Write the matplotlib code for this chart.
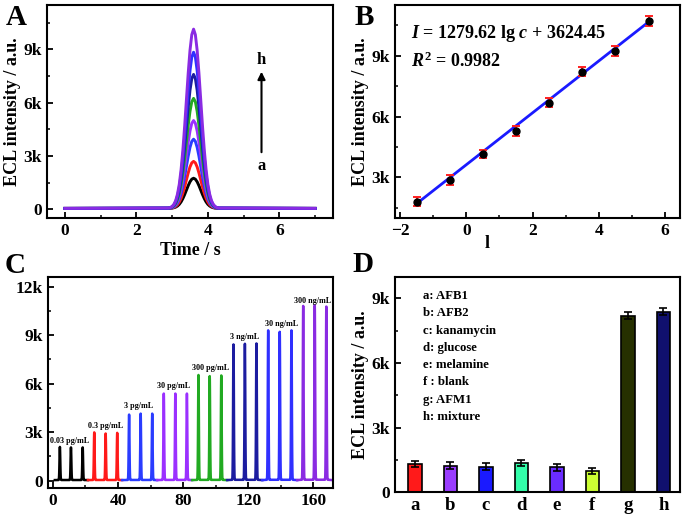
import numpy as np
import matplotlib
matplotlib.use("Agg")
import matplotlib.pyplot as plt
from matplotlib.ticker import MultipleLocator, FuncFormatter

plt.rcParams.update({
    "font.family": ["Liberation Serif", "DejaVu Serif"],
    "font.weight": "bold",
    "axes.labelweight": "bold",
    "axes.linewidth": 1.5,
    "xtick.direction": "in", "ytick.direction": "in",
    "xtick.major.size": 4, "ytick.major.size": 4,
    "xtick.minor.size": 2.5, "ytick.minor.size": 2.5,
    "xtick.major.width": 1.3, "ytick.major.width": 1.3,
    "xtick.minor.width": 1.1, "ytick.minor.width": 1.1,
    "xtick.labelsize": 12.5, "ytick.labelsize": 12.5,
    "mathtext.fontset": "custom",
    "mathtext.rm": "Liberation Serif:bold",
    "mathtext.it": "Liberation Serif:italic:bold",
    "mathtext.bf": "Liberation Serif:bold",
})

# ---- data -------------------------------------------------------------
# A: ECL peaks a..h
A_LABELS = ["a", "b", "c", "d", "e", "f", "g", "h"]
A_HEIGHTS = [1700, 2650, 3900, 4950, 6200, 7550, 8800, 10100]
A_COLORS = ["#000000", "#ff1a1a", "#2a3cff", "#9b30ff", "#22aa22", "#1c1ca0", "#3030ff", "#8a2be2"]
A_CENTER = 3.6
A_BASE = 40
# normalised peak profile (offset in s, relative height)
PROFILE_DT = [-0.70, -0.65, -0.60, -0.55, -0.50, -0.45, -0.40, -0.35, -0.30, -0.25, -0.20, -0.15,
              -0.10, -0.05, 0.0, 0.05, 0.10, 0.15, 0.20, 0.25, 0.30, 0.35, 0.40, 0.45, 0.50,
              0.55, 0.60, 0.65, 0.70]
PROFILE_REL = [0.002, 0.005, 0.011, 0.023, 0.044, 0.080, 0.135, 0.216, 0.325, 0.458, 0.607, 0.755,
               0.882, 0.969, 1.0, 0.969, 0.882, 0.755, 0.607, 0.458, 0.325, 0.216, 0.135, 0.080,
               0.044, 0.023, 0.011, 0.005, 0.002]

# B: calibration
B_X = [-1.5, -0.5, 0.5, 1.5, 2.5, 3.5, 4.5, 5.5]
B_Y = [1810, 2870, 4170, 5290, 6680, 8210, 9240, 10710]
B_ERR = [230, 230, 200, 260, 220, 220, 260, 230]
B_SLOPE, B_ICPT = 1279.62, 3624.45

# C: repeated scans per concentration
C_CONC = ["0.03 pg/mL", "0.3 pg/mL", "3 pg/mL", "30 pg/mL", "300 pg/mL", "3 ng/mL", "30 ng/mL", "300 ng/mL"]
C_COLORS = ["#000000", "#ff1a1a", "#2a3cff", "#9b30ff", "#22aa22", "#1c1ca0", "#3030ff", "#8a2be2"]
C_START = [1.2, 21.5, 42.5, 64.0, 85.5, 107.0, 128.6, 150.0]
C_END = [21.5, 42.5, 64.0, 85.5, 107.0, 128.6, 150.0, 171.5]
C_PEAK_T = [[4.3, 11.1, 18.3], [25.4, 32.4, 39.5], [46.8, 53.9, 61.0], [68.1, 75.2, 82.3],
            [89.4, 96.3, 103.4], [110.9, 117.9, 125.0], [132.2, 139.3, 146.5], [153.7, 160.8, 167.9]]
C_PEAK_H = [[2050, 2020, 2020], [2950, 2880, 2920], [4050, 4110, 4110], [5350, 5350, 5350],
            [6500, 6430, 6470], [8390, 8430, 8450], [9260, 9170, 9260], [10770, 10810, 10730]]
C_LABEL_XY = [(-1.8, 2440), (21.5, 3370), (43.5, 4610), (64.0, 5850),
              (85.3, 7000), (108.5, 8900), (130.5, 9720), (148.0, 11130)]

# D: selectivity
D_CATS = ["a", "b", "c", "d", "e", "f", "g", "h"]
D_VALS = [1300, 1230, 1170, 1360, 1140, 960, 8200, 8380]
D_ERR = [150, 150, 160, 150, 170, 140, 160, 160]
D_COLORS = ["#ff1a1a", "#9a3cff", "#1a1aff", "#33ffaa", "#6a2cff", "#ccff33", "#263000", "#10106e"]
D_NAMES = ["a: AFB1", "b: AFB2", "c: kanamycin", "d: glucose", "e: melamine", "f : blank", "g: AFM1", "h: mixture"]

# ---- layout -----------------------------------------------------------
W, H = 685, 517
fig = plt.figure(figsize=(W / 100, H / 100), dpi=100)


def rect(l, t, r, b):
    return [l / W, 1 - b / H, (r - l) / W, (b - t) / H]


kfmt = FuncFormatter(lambda v, p: "0" if v == 0 else f"{v / 1000:g}k")


def style(ax):
    ax.tick_params(which="both", top=False, right=False)
    ax.yaxis.set_major_formatter(kfmt)


# A
axA = fig.add_axes(rect(47, 5, 333, 218))
for h, c in zip(A_HEIGHTS, A_COLORS):
    t = [0.0] + [A_CENTER + d for d in PROFILE_DT] + [7.0]
    y = [A_BASE] + [A_BASE + h * r for r in PROFILE_REL] + [A_BASE]
    axA.plot(t, y, color=c, lw=2.1)
axA.set_xlim(-0.5, 7.5)
axA.set_ylim(-500, 11500)
axA.xaxis.set_major_locator(MultipleLocator(2))
axA.xaxis.set_minor_locator(MultipleLocator(1))
axA.yaxis.set_major_locator(MultipleLocator(3000))
axA.yaxis.set_minor_locator(MultipleLocator(1500))
style(axA)
axA.set_xlabel("Time / s", fontsize=13, labelpad=2)
axA.set_ylabel("ECL intensity / a.u.", fontsize=13, labelpad=2)
axA.annotate("", xy=(5.5, 7900), xytext=(5.5, 3050),
             arrowprops=dict(arrowstyle="-|>", color="black", lw=1.5, mutation_scale=11))
axA.text(5.5, 8400, A_LABELS[-1], ha="center", va="center", fontsize=12)
axA.text(5.5, 2450, A_LABELS[0], ha="center", va="center", fontsize=12)

# B
axB = fig.add_axes(rect(395, 5, 680, 218))
xl = np.array([B_X[0], B_X[-1]])
axB.plot(xl, B_SLOPE * xl + B_ICPT, color="#1a1aff", lw=2)
axB.errorbar(B_X, B_Y, yerr=B_ERR, fmt="o", color="black", ms=5,
             ecolor="#ff2020", elinewidth=1.4, capsize=3, capthick=1.4, zorder=3)
axB.set_xlim(-2.15, 6.45)
axB.set_ylim(1000, 11500)
axB.xaxis.set_major_locator(MultipleLocator(2))
axB.xaxis.set_minor_locator(MultipleLocator(1))
axB.yaxis.set_major_locator(MultipleLocator(3000))
axB.yaxis.set_minor_locator(MultipleLocator(1500))
style(axB)
axB.set_ylabel("ECL intensity / a.u.", fontsize=13, labelpad=2)
axB.text(0.055, 0.865, f"$I$ = {B_SLOPE:.2f} lg $c$ + {B_ICPT:.2f}", transform=axB.transAxes,
         fontsize=13, va="center")
axB.text(0.055, 0.735, r"$R^{\mathrm{2}}$ = 0.9982", transform=axB.transAxes, fontsize=13, va="center")
fig.text(487 / W, 1 - 244 / H, "l", ha="center", va="center", fontsize=13)

# C
axC = fig.add_axes(rect(48, 277, 333, 488))
for s, e, pts, hs, c in zip(C_START, C_END, C_PEAK_T, C_PEAK_H, C_COLORS):
    t, y = [s], [A_BASE]
    for pt, h in zip(pts, hs):
        t += [pt + 1.2 * d for d in PROFILE_DT]
        y += [A_BASE + h * r for r in PROFILE_REL]
    t.append(e)
    y.append(A_BASE)
    axC.plot(t, y, color=c, lw=1.8)
for (x, y), lab in zip(C_LABEL_XY, C_CONC):
    axC.text(x, y, lab, fontsize=5.9, va="center", ha="left")
axC.set_xlim(-3, 172)
axC.set_ylim(-450, 12600)
axC.xaxis.set_major_locator(MultipleLocator(40))
axC.xaxis.set_minor_locator(MultipleLocator(20))
axC.yaxis.set_major_locator(MultipleLocator(3000))
axC.yaxis.set_minor_locator(MultipleLocator(1500))
style(axC)

# D
axD = fig.add_axes(rect(395, 277, 680, 492))
xd = np.arange(len(D_CATS))
axD.bar(xd, D_VALS, width=0.38, color=D_COLORS, edgecolor="black", linewidth=1.2,
        yerr=D_ERR, error_kw=dict(ecolor="black", elinewidth=1.2, capsize=3, capthick=1.2))
axD.set_xlim(-0.56, 7.47)
axD.set_ylim(0, 10000)
axD.set_xticks(xd, D_CATS)
axD.tick_params(axis="x", length=0, labelsize=13.5)
axD.yaxis.set_major_locator(MultipleLocator(3000))
axD.yaxis.set_minor_locator(MultipleLocator(1500))
style(axD)
axD.set_ylabel("ECL intensity / a.u.", fontsize=13, labelpad=2)
for i, name in enumerate(D_NAMES):
    axD.text(0.098, 0.912 - 0.0805 * i, name, transform=axD.transAxes, fontsize=9.2, va="center")

# panel letters
for lab, x, y in [("A", 6, 25), ("B", 355, 25), ("C", 5, 273), ("D", 352, 272)]:
    fig.text(x / W, 1 - y / H, lab, fontsize=21, fontweight="bold", va="baseline")

fig.savefig("out.png", dpi=100)
